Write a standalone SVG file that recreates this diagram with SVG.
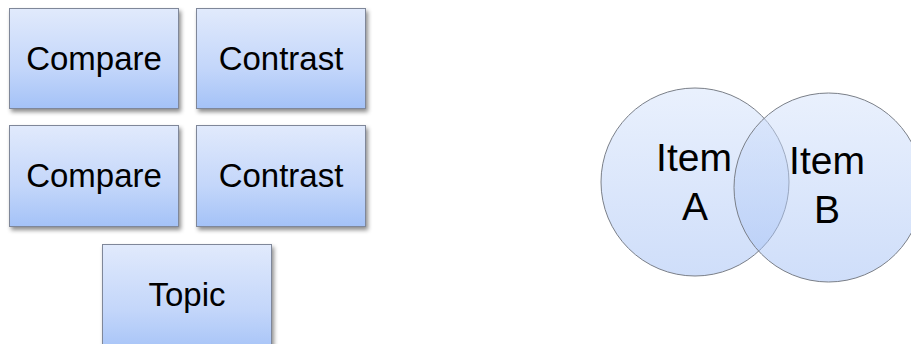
<svg xmlns="http://www.w3.org/2000/svg" width="911" height="344" viewBox="0 0 911 344">
<defs>
<linearGradient id="boxGrad" x1="0" y1="0" x2="0" y2="1">
<stop offset="0" stop-color="#e1eafc"/>
<stop offset="0.6" stop-color="#c3d6fa"/>
<stop offset="1" stop-color="#a4c2f7"/>
</linearGradient>
<linearGradient id="circGrad" x1="0" y1="0" x2="0" y2="1">
<stop offset="0" stop-color="#d4e2fb"/>
<stop offset="1" stop-color="#9fbdf4"/>
</linearGradient>
<filter id="shadow" x="-10%" y="-10%" width="130%" height="130%">
<feDropShadow dx="2" dy="3" stdDeviation="2" flood-color="#000" flood-opacity="0.45"/>
</filter>
</defs>
<style>
.box{fill:url(#boxGrad);stroke:#7f8799;stroke-width:1;filter:url(#shadow)}
.circ{fill:url(#circGrad);fill-opacity:0.5;stroke:#7a7f88;stroke-width:1}
.lbl{font-family:"Liberation Sans",Arial,sans-serif;font-size:33px;fill:#000;text-anchor:middle}
.clbl{font-family:"Liberation Sans",Arial,sans-serif;font-size:39px;fill:#000;text-anchor:middle}
</style>
<g id="compare1">
<rect class="box" x="9.5" y="8.5" width="169" height="100"/>
<text class="lbl" x="94" y="70">Compare</text>
</g>
<g id="contrast1">
<rect class="box" x="196.5" y="8.5" width="169" height="100"/>
<text class="lbl" x="281" y="70">Contrast</text>
</g>
<g id="compare2">
<rect class="box" x="9.5" y="125.5" width="169" height="101"/>
<text class="lbl" x="94" y="187">Compare</text>
</g>
<g id="contrast2">
<rect class="box" x="196.5" y="125.5" width="169" height="101"/>
<text class="lbl" x="281" y="187">Contrast</text>
</g>
<g id="topic">
<rect class="box" x="102.5" y="244.5" width="169" height="110"/>
<text class="lbl" x="187" y="306">Topic</text>
</g>
<g id="itemA">
<circle class="circ" cx="695" cy="182" r="94"/>
</g>
<g id="itemB">
<circle class="circ" cx="828.5" cy="187.5" r="94.5"/>
</g>
<g id="labels">
<text class="clbl" x="694" y="171">Item</text>
<text class="clbl" x="695" y="220">A</text>
<text class="clbl" x="827" y="174">Item</text>
<text class="clbl" x="827" y="223">B</text>
</g>
<g id="connectors"/>
</svg>
